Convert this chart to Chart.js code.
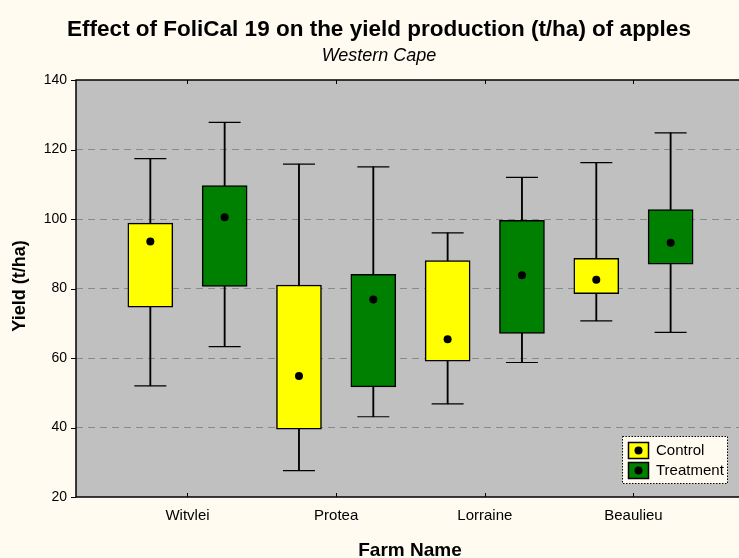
<!DOCTYPE html>
<html>
<head>
<meta charset="utf-8">
<script src="https://cdn.jsdelivr.net/npm/chart.js@4/dist/chart.umd.min.js"></script>
<style>
  html, body { margin: 0; padding: 0; background: #FFFBF0; overflow: hidden; }
  #wrap { width: 739px; height: 558px; position: relative; }
</style>
</head>
<body>
<div id="wrap"><canvas id="c" width="739" height="558"></canvas></div>
<script>
// ---- data ----
const farms = ['Witvlei', 'Protea', 'Lorraine', 'Beaulieu'];
const seriesNames = ['Control', 'Treatment'];

const controlMin  = [52.0, 27.6, 46.8, 70.7];
const controlQ1   = [74.6, 39.5, 59.1, 78.5];
const controlQ3   = [98.8, 81.0, 88.0, 88.7];
const controlMax  = [117.4, 115.8, 96.0, 116.2];
const controlMean = [93.5, 54.8, 65.4, 82.5];

const treatMin  = [63.3, 43.1, 58.7, 67.4];
const treatQ1   = [80.6, 51.7, 67.1, 87.0];
const treatQ3   = [109.6, 84.1, 99.6, 102.7];
const treatMax  = [127.8, 115.0, 112.0, 124.8];
const treatMean = [100.5, 76.8, 83.8, 93.2];

const yTicks = [20, 40, 60, 80, 100, 120, 140];

// ---- styling ----
const FONT = "'Liberation Sans', Arial, Helvetica, sans-serif";
const CONTROL_COLOR = '#FFFF00';
const TREAT_COLOR = '#008000';
const PLOT_BG = '#C0C0C0';
const PAGE_BG = '#FFFBF0';
const GROUP_OFFSET = 0.25;

function boxData(q1, q3, off) { return farms.map((f, i) => ({ x: i + off, y: [q1[i], q3[i]] })); }
function capData(lo, hi, off) { return farms.flatMap((f, i) => [{ x: i + off, y: lo[i] }, { x: i + off, y: hi[i] }]); }
function meanData(m, off) { return farms.map((f, i) => ({ x: i + off, y: m[i] })); }

function groupDatasets(name, color, lo, q1, q3, hi, mean, off) {
  return [
    { type: 'bar', label: name + ' whisker', data: boxData(lo, hi, off), backgroundColor: '#000', borderWidth: 0,
      barThickness: 1.2, grouped: false, order: 4 },
    { type: 'bar', label: name, data: boxData(q1, q3, off), backgroundColor: color, borderColor: '#000', borderWidth: 1.5,
      borderSkipped: false, barThickness: 45, grouped: false, order: 3 },
    { type: 'scatter', label: name + ' caps', data: capData(lo, hi, off), pointStyle: 'line', pointRadius: 16,
      borderColor: '#000', borderWidth: 1.2, order: 2 },
    { type: 'scatter', label: name + ' mean', data: meanData(mean, off), pointStyle: 'circle', pointRadius: 4,
      backgroundColor: '#000', borderColor: '#000', borderWidth: 0, order: 1 }
  ];
}

const decor = {
  id: 'decor',
  beforeDraw(chart) {
    const { ctx, chartArea: a } = chart;
    ctx.save();
    ctx.fillStyle = PAGE_BG;
    ctx.fillRect(0, 0, chart.width, chart.height);
    ctx.fillStyle = PLOT_BG;
    ctx.fillRect(a.left, a.top, a.right - a.left, a.bottom - a.top);
    ctx.restore();
  },
  afterDraw(chart) {
    const { ctx, chartArea: a, scales } = chart;
    ctx.save();
    // frame (left, top, bottom)
    ctx.strokeStyle = '#000';
    ctx.lineWidth = 1.5;
    ctx.beginPath();
    ctx.moveTo(a.right, a.top); ctx.lineTo(a.left, a.top); ctx.lineTo(a.left, a.bottom); ctx.lineTo(a.right, a.bottom);
    ctx.stroke();
    // y tick marks (outside)
    ctx.lineWidth = 1;
    ctx.beginPath();
    yTicks.forEach(v => { const y = Math.round(scales.y.getPixelForValue(v)) + 0.5; ctx.moveTo(a.left - 5, y); ctx.lineTo(a.left, y); });
    // x tick marks (inside, top and bottom)
    farms.forEach((f, i) => {
      const x = Math.round(scales.x.getPixelForValue(i)) + 0.5;
      ctx.moveTo(x, a.top); ctx.lineTo(x, a.top + 4);
      ctx.moveTo(x, a.bottom); ctx.lineTo(x, a.bottom - 4);
    });
    ctx.stroke();

    // legend
    const lx = 622.5, ly = 436.5, lw = 105, lh = 47;
    ctx.fillStyle = PAGE_BG;
    ctx.fillRect(lx, ly, lw, lh);
    ctx.setLineDash([1.5, 1.5]);
    ctx.lineWidth = 1;
    ctx.strokeStyle = '#000';
    ctx.strokeRect(lx, ly, lw, lh);
    ctx.setLineDash([]);
    const items = [[seriesNames[0], CONTROL_COLOR, 450.5], [seriesNames[1], TREAT_COLOR, 470.5]];
    ctx.font = '15px ' + FONT;
    ctx.textBaseline = 'middle';
    ctx.textAlign = 'left';
    items.forEach(([name, col, cy]) => {
      ctx.fillStyle = col;
      ctx.fillRect(628.5, cy - 8, 20, 16);
      ctx.lineWidth = 1.5;
      ctx.strokeStyle = '#000';
      ctx.strokeRect(628.5, cy - 8, 20, 16);
      ctx.fillStyle = '#000';
      ctx.beginPath(); ctx.arc(638.5, cy, 4, 0, Math.PI * 2); ctx.fill();
      ctx.fillText(name, 656, cy + 0.5);
    });

    // titles
    ctx.fillStyle = '#000';
    ctx.textAlign = 'center';
    ctx.textBaseline = 'alphabetic';
    ctx.font = 'bold 22.5px ' + FONT;
    ctx.fillText('Effect of FoliCal 19 on the yield production (t/ha) of apples', 379, 36);
    ctx.font = 'italic 18px ' + FONT;
    ctx.fillText('Western Cape', 379, 61);
    ctx.font = 'bold 19px ' + FONT;
    ctx.fillText('Farm Name', 410, 556);
    ctx.save();
    ctx.translate(25, 286);
    ctx.rotate(-Math.PI / 2);
    ctx.font = 'bold 18px ' + FONT;
    ctx.fillText('Yield (t/ha)', 0, 0);
    ctx.restore();
    ctx.restore();
  }
};

new Chart(document.getElementById('c'), {
  type: 'bar',
  data: {
    datasets: [
      ...groupDatasets('Control', CONTROL_COLOR, controlMin, controlQ1, controlQ3, controlMax, controlMean, -GROUP_OFFSET),
      ...groupDatasets('Treatment', TREAT_COLOR, treatMin, treatQ1, treatQ3, treatMax, treatMean, GROUP_OFFSET)
    ]
  },
  options: {
    responsive: false,
    animation: false,
    events: [],
    layout: { autoPadding: false, padding: { top: 80, left: 0, right: 0, bottom: 0 } },
    plugins: { legend: { display: false }, tooltip: { enabled: false }, title: { display: false } },
    scales: {
      x: {
        type: 'linear', min: -0.75, max: 3.71, offset: false,
        grid: { display: false, drawTicks: false, offset: false },
        border: { display: false },
        afterBuildTicks: s => { s.ticks = farms.map((f, i) => ({ value: i })); },
        afterFit: s => { s.height = 61; s.paddingLeft = 0; s.paddingRight = 0; },
        ticks: { callback: v => farms[v], font: { size: 15, family: FONT }, color: '#000', padding: 10, autoSkip: false, maxRotation: 0 }
      },
      y: {
        min: 20, max: 140,
        afterBuildTicks: s => { s.ticks = yTicks.map(v => ({ value: v })); },
        afterFit: s => { s.width = 76; s.paddingTop = 0; s.paddingBottom = 0; },
        grid: { color: c => (c.tick && (c.tick.value === 20 || c.tick.value === 140)) ? 'rgba(0,0,0,0)' : '#8a8a8a', lineWidth: 1, drawTicks: false },
        border: { display: false, dash: [7, 5] },
        ticks: { font: { size: 14, family: FONT }, color: '#000', padding: 9 }
      }
    }
  },
  plugins: [decor]
});
</script>
</body>
</html>
